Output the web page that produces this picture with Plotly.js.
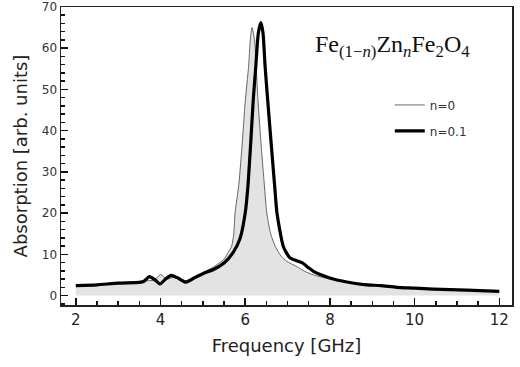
<!DOCTYPE html>
<html>
<head>
<meta charset="utf-8">
<script src="https://cdn.plot.ly/plotly-3.0.1.min.js"></script>
<style>
  html, body { margin: 0; padding: 0; background: #fff; }
  #plotDiv { width: 520px; height: 367px; }
</style>
</head>
<body>
<div id="plotDiv"></div>
<script>
// n = 0 (thin line, filled)
let f0 = [2.0, 2.5, 3.0, 3.5, 3.7, 3.85, 4.0, 4.15, 4.3, 4.45, 4.6, 4.8, 5.0, 5.25, 5.5,
  5.6, 5.68, 5.73, 5.76, 5.85, 5.93, 6.0, 6.08, 6.12, 6.16, 6.22, 6.26, 6.3, 6.38,
  6.45, 6.51, 6.6, 6.71, 6.85, 6.98, 7.22, 7.4, 7.61, 8.0, 8.5, 9.0, 9.5, 10.0,
  10.5, 11.0, 11.5, 12.0];
let a0 = [2.3, 2.5, 2.9, 3.2, 3.6, 3.7, 5.1, 4.0, 4.4, 4.0, 3.6, 4.5, 5.6, 6.9, 8.8,
  10.5, 12.0, 15.0, 20.0, 27.0, 37.0, 47.0, 55.6, 62.0, 65.0, 62.0, 55.6, 47.5, 36.0,
  27.0, 20.0, 15.0, 11.9, 9.5, 8.3, 7.0, 5.9, 5.0, 4.0, 3.2, 2.7, 2.2, 1.8,
  1.5, 1.3, 1.1, 0.95];

// n = 0.1 (thick line)
let f1 = [2.0, 2.5, 3.0, 3.5, 3.6, 3.74, 3.87, 3.99, 4.12, 4.25, 4.42, 4.6, 4.8, 5.0,
  5.25, 5.5, 5.72, 5.88, 6.0, 6.06, 6.13, 6.19, 6.25, 6.31, 6.37, 6.42, 6.47, 6.53,
  6.62, 6.7, 6.75, 6.9, 7.05, 7.2, 7.35, 7.5, 7.62, 7.77, 8.08, 8.5, 8.87, 9.2, 9.58,
  10.0, 10.44, 11.23, 12.0];
let a1 = [2.4, 2.6, 3.0, 3.2, 3.4, 4.6, 3.8, 2.8, 4.0, 4.9, 4.2, 3.25, 4.3, 5.3,
  6.3, 7.9, 10.5, 13.9, 20.0, 26.0, 37.0, 47.5, 55.6, 63.7, 66.2, 63.7, 55.6, 47.5,
  36.0, 26.0, 20.0, 11.9, 9.2, 8.5, 7.9, 6.7, 5.8, 5.1, 4.0, 3.1, 2.6, 2.4, 2.0,
  1.8, 1.55, 1.3, 1.0];

let font = 'DejaVu Sans, Verdana, sans-serif';

// grey area under the n=0 curve
let area = {
  x: f0, y: a0, type: 'scatter', mode: 'lines', hoverinfo: 'skip',
  line: { width: 0, shape: 'spline', smoothing: 0.6 },
  fill: 'tozeroy', fillcolor: '#e3e3e3', showlegend: false,
};
let thin = {
  x: f0, y: a0, name: 'n=0', type: 'scatter', mode: 'lines',
  line: { color: '#666', width: 1, shape: 'spline', smoothing: 0.6 },
  legendgroup: 'a',
};
let thick = {
  x: f1, y: a1, name: 'n=0.1', type: 'scatter', mode: 'lines',
  line: { color: '#000', width: 3.2, shape: 'spline', smoothing: 0.6 },
  legendgroup: 'b',
};

let layout = {
  width: 520, height: 367,
  margin: { l: 61, r: 8, t: 7, b: 62 },
  font: { family: font, color: '#222' },
  showlegend: true,
  legend: {
    x: 0.729, y: 0.72, xanchor: 'left', yanchor: 'top',
    bgcolor: 'rgba(0,0,0,0)', font: { size: 12, color: '#333' },
    tracegroupgap: 7,
  },
  xaxis: {
    range: [1.65, 12.3], dtick: 2,
    ticks: 'inside', ticklen: 7, tickwidth: 1.5, tickcolor: '#111',
    minor: { dtick: 0.5, ticks: 'inside', ticklen: 4, tickcolor: '#111' },
    showline: true, mirror: true, linecolor: '#222', linewidth: 1.5,
    showgrid: false, zeroline: false,
    tickfont: { size: 15, color: '#222' },
    title: { text: 'Frequency [GHz]', font: { size: 18, color: '#222' }, standoff: 12 },
  },
  yaxis: {
    range: [-2.3, 70], dtick: 10,
    ticks: 'inside', ticklen: 7, tickwidth: 1.5, tickcolor: '#111',
    minor: { dtick: 2, ticks: 'inside', ticklen: 4, tickcolor: '#111' },
    showline: true, mirror: true, linecolor: '#222', linewidth: 1.5,
    showgrid: false, zeroline: false,
    tickfont: { size: 12, color: '#333' },
    title: { text: 'Absorption [arb. units]', font: { size: 18, color: '#222' }, standoff: 9 },
  },
  annotations: [{
    xref: 'paper', yref: 'paper', x: 0.734, y: 0.87, xanchor: 'center', yanchor: 'middle',
    text: 'Fe<sub>(1\u2212<i>n</i>)</sub>Zn<sub><i>n</i></sub>Fe<sub>2</sub>O<sub>4</sub>',
    showarrow: false,
    font: { family: 'Liberation Serif, serif', size: 24, color: '#111' },
  }],
};

Plotly.newPlot('plotDiv', [area, thin, thick], layout, { staticPlot: true });
</script>
</body>
</html>
